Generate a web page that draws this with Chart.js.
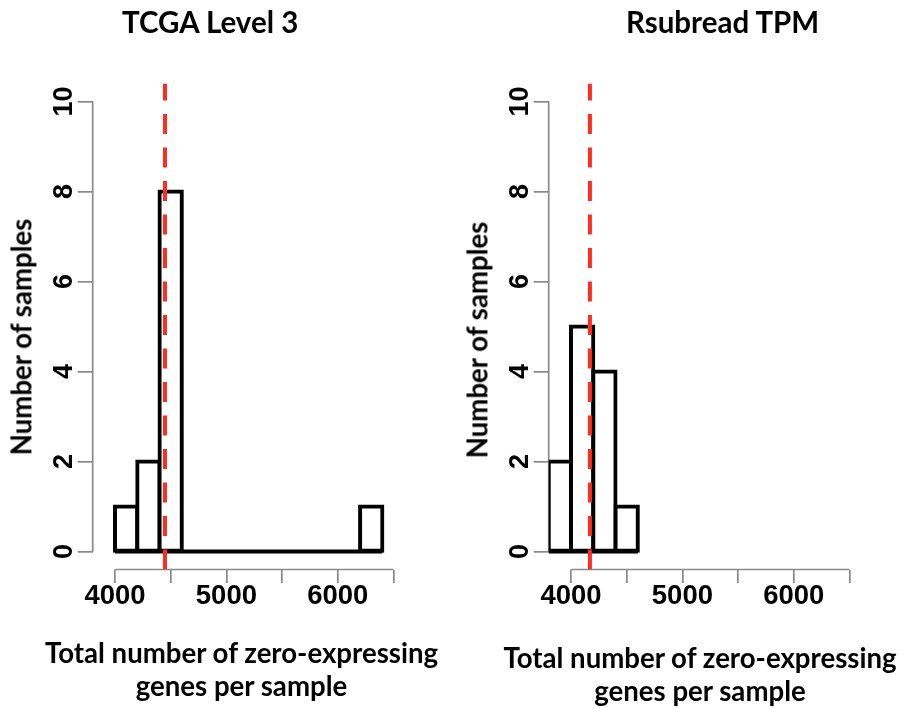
<!DOCTYPE html>
<html>
<head>
<meta charset="utf-8">
<script src="https://cdn.jsdelivr.net/npm/chart.js@4.4.1/dist/chart.umd.min.js"></script>
<style>
  body { margin: 0; background: #fff; }
  #wrap { position: relative; width: 905px; height: 708px; overflow: hidden; }
  canvas { position: absolute; top: 0; }
  .title { position: absolute; font-family: Lato; font-weight: bold; font-size: 29.5px; line-height: 29px; white-space: nowrap; color: #000; }
  .ytitle { position: absolute; font-family: Lato; font-weight: bold; font-size: 27.6px; line-height: 1.2; white-space: nowrap; color: #000;
            transform: translate(-50%, -50%) rotate(-90deg); }
  .xtitle { position: absolute; width: 460px; font-family: Lato; font-weight: bold; font-size: 27.6px; line-height: 33px; text-align: center; white-space: nowrap; color: #000; }
</style>
</head>
<body>
<div id="wrap">
  <canvas id="tcga-chart" width="452" height="708" style="left:0"></canvas>
  <canvas id="rsub-chart" width="452" height="708" style="left:453px"></canvas>
  <div class="title" style="left:122px; top:7px">TCGA Level 3</div>
  <div class="title" style="left:626px; top:7px">Rsubread TPM</div>
  <div class="ytitle" style="left:21px; top:337px">Number of samples</div>
  <div class="ytitle" style="left:477px; top:340px">Number of samples</div>
  <div class="xtitle" style="left:11.5px; top:635.5px">Total number of zero-expressing<br>genes per sample</div>
  <div class="xtitle" style="left:470px; top:640.5px">Total number of zero-expressing<br>genes per sample</div>
</div>
<script>
// TCGA Level 3: histogram breaks, counts and the median (red dashed line)
const tcgaBreaks = [4000, 4200, 4400, 4600, 4800, 5000, 5200, 5400, 5600, 5800, 6000, 6200, 6400];
const tcgaCounts = [1, 2, 8, 0, 0, 0, 0, 0, 0, 0, 0, 1];
const tcgaMedian = 4449;

// Rsubread TPM
const rsubBreaks = [3800, 4000, 4200, 4400, 4600];
const rsubCounts = [2, 5, 4, 1];
const rsubMedian = 4170;

// Axis ticks, same in both panels
const xTicks = [4000, 4500, 5000, 5500, 6000, 6500];
const xTickLabels = [4000, 5000, 6000];
const yTicks = [0, 2, 4, 6, 8, 10];

const axisGray = '#8a8a8a';
const medianRed = '#ff2d1e';
const yMin = -0.4, yMax = 10.4;

// R style axes: lines only over the tick range, rotated y labels
const rAxesPlugin = {
    id: 'rAxes',
    beforeDatasetsDraw(chart) {
        const { ctx, chartArea, scales: { x, y } } = chart;
        ctx.save();
        ctx.strokeStyle = axisGray;
        ctx.lineWidth = 1.7;
        ctx.beginPath();
        ctx.moveTo(chartArea.left, y.getPixelForValue(yTicks[0]));
        ctx.lineTo(chartArea.left, y.getPixelForValue(yTicks[yTicks.length - 1]));
        ctx.moveTo(x.getPixelForValue(xTicks[0]), chartArea.bottom);
        ctx.lineTo(x.getPixelForValue(xTicks[xTicks.length - 1]), chartArea.bottom);
        ctx.stroke();

        ctx.fillStyle = '#000';
        ctx.font = 'bold 27px "Liberation Sans"';
        ctx.textAlign = 'center';
        ctx.textBaseline = 'middle';
        yTicks.forEach(v => {
            ctx.save();
            ctx.translate(chartArea.left - 27.7, y.getPixelForValue(v));
            ctx.rotate(-Math.PI / 2);
            ctx.fillText(String(v), 0, 0);
            ctx.restore();
        });
        ctx.restore();
    }
};

// Build one histogram panel
function createHistogram(canvasId, breaks, counts, median, yAxisWidth, padRight) {
    const bins = counts.map((c, i) => ({ x: (breaks[i] + breaks[i + 1]) / 2, y: c }));
    const ctx = document.getElementById(canvasId).getContext('2d');
    return new Chart(ctx, {
        type: 'bar',
        data: {
            datasets: [
                {
                    type: 'line',
                    data: [{ x: median, y: yMin }, { x: median, y: yMax }],
                    borderColor: medianRed,
                    borderWidth: 4,
                    borderDash: [20, 13.5],
                    pointRadius: 0,
                    order: 0
                },
                {
                    type: 'line',
                    data: [{ x: breaks[0], y: 0 }, { x: breaks[breaks.length - 1], y: 0 }],
                    borderColor: '#000',
                    borderWidth: 4,
                    pointRadius: 0,
                    order: 1
                },
                {
                    type: 'bar',
                    data: bins,
                    backgroundColor: '#fff',
                    borderColor: '#000',
                    borderWidth: 4,
                    borderSkipped: false,
                    inflateAmount: 2,
                    barPercentage: 1,
                    categoryPercentage: 1,
                    order: 2
                }
            ]
        },
        options: {
            responsive: false,
            animation: false,
            events: [],
            layout: { padding: { top: 83.5, right: padRight, bottom: 0, left: 0 } },
            plugins: { legend: { display: false }, tooltip: { enabled: false } },
            scales: {
                x: {
                    type: 'linear',
                    min: 3800,
                    max: 6500,
                    offset: false,
                    afterBuildTicks: scale => { scale.ticks = xTicks.map(v => ({ value: v })); },
                    afterFit: scale => { scale.height = 138.5; },
                    grid: { drawOnChartArea: false, offset: false, tickLength: 13.5, color: axisGray, lineWidth: 1.7 },
                    border: { display: false },
                    ticks: {
                        autoSkip: false,
                        maxRotation: 0,
                        padding: 0,
                        color: '#000',
                        font: { family: 'Liberation Sans', weight: 'bold', size: 27.5, lineHeight: 1 },
                        callback: v => xTickLabels.includes(v) ? String(v) : ''
                    }
                },
                y: {
                    min: yMin,
                    max: yMax,
                    afterBuildTicks: scale => { scale.ticks = yTicks.map(v => ({ value: v })); },
                    afterFit: scale => { scale.width = yAxisWidth; },
                    grid: { drawOnChartArea: false, tickLength: 15, color: axisGray, lineWidth: 1.7 },
                    border: { display: false },
                    ticks: { display: false }
                }
            }
        },
        plugins: [rAxesPlugin]
    });
}

createHistogram('tcga-chart', tcgaBreaks, tcgaCounts, tcgaMedian, 92.7, 58.5);
createHistogram('rsub-chart', rsubBreaks, rsubCounts, rsubMedian, 95.7, 55.5);
</script>
</body>
</html>
